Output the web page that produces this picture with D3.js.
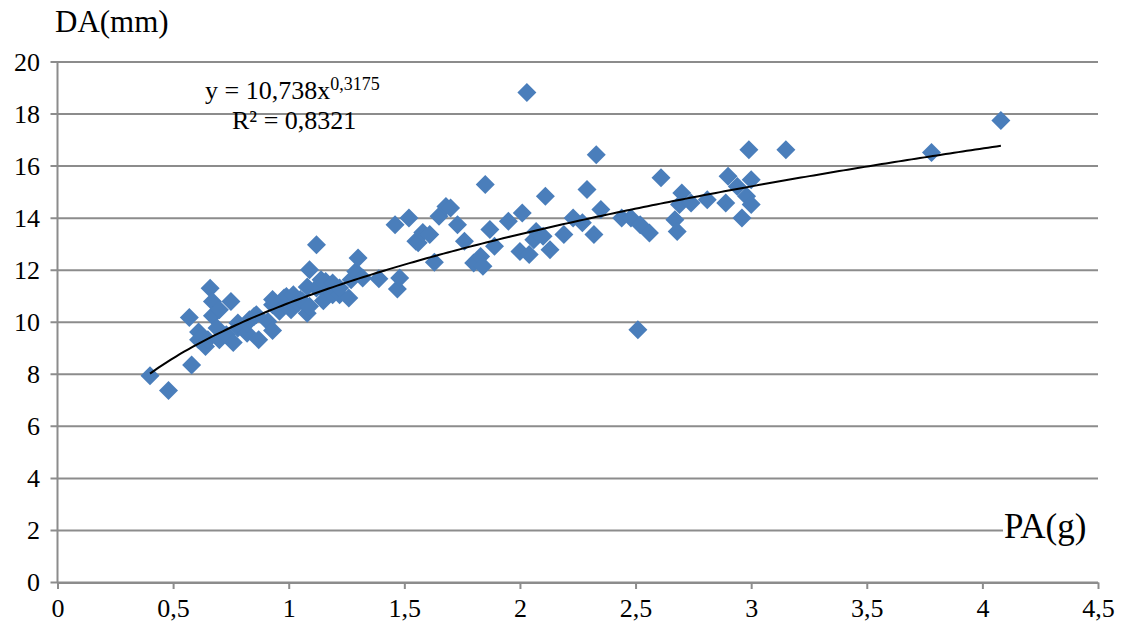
<!DOCTYPE html>
<html>
<head>
<meta charset="utf-8">
<script src="https://cdn.jsdelivr.net/npm/d3@7"></script>
<style>
  html, body { margin: 0; padding: 0; background: #fff; }
  svg { display: block; font-family: "Liberation Serif", "Times New Roman", serif; }
</style>
</head>
<body>
<svg id="chart" width="1123" height="630"></svg>
<script>
// PA (g) – fruit weight
const pa = [
  0.40, 0.48, 0.58, 0.57, 0.66, 0.61, 0.64, 0.61, 0.65, 0.67,
  0.67, 0.69, 0.70, 0.70, 0.73, 0.75, 0.76, 0.78, 0.78, 0.82,
  0.82, 0.83, 0.85, 0.86, 0.87, 0.91, 0.93, 0.93, 0.93, 0.96,
  0.98, 0.99, 1.01, 1.02, 1.04, 1.05, 1.06, 1.08, 1.08, 1.09,
  1.09, 1.12, 1.12, 1.14, 1.15, 1.16, 1.16, 1.19, 1.19, 1.22,
  1.22, 1.26, 1.27, 1.29, 1.30, 1.32, 1.39, 1.46, 1.47, 1.48,
  1.52, 1.55, 1.56, 1.58, 1.61, 1.63, 1.65, 1.68, 1.70, 1.73,
  1.76, 1.80, 1.83, 1.84, 1.85, 1.87, 1.89, 1.95, 2.00, 2.01,
  2.03, 2.04, 2.06, 2.07, 2.10, 2.11, 2.13, 2.19, 2.23, 2.27,
  2.29, 2.32, 2.33, 2.35, 2.44, 2.48, 2.51, 2.52, 2.56, 2.61,
  2.67, 2.68, 2.69, 2.70, 2.74, 2.81, 2.89, 2.90, 2.94, 2.96,
  2.98, 2.99, 3.00, 3.00, 3.15, 3.78, 4.08
];
// DA (mm) – fruit diameter
const da = [
  7.94, 7.38, 8.36, 10.18, 11.31, 9.63, 9.07, 9.33, 9.33, 10.80,
  10.25, 9.78, 10.48, 9.33, 9.52, 10.80, 9.22, 9.78, 9.97, 9.58,
  9.97, 10.10, 10.22, 10.29, 9.33, 10.03, 9.68, 10.67, 10.87, 10.42,
  10.93, 10.99, 10.48, 11.06, 10.74, 10.87, 10.80, 11.35, 10.35, 10.61,
  12.02, 12.98, 11.32, 11.63, 10.83, 11.18, 11.57, 11.51, 11.06, 11.06,
  11.32, 10.93, 11.63, 11.95, 12.47, 11.70, 11.67, 13.75, 11.28, 11.70,
  14.01, 13.11, 13.05, 13.45, 13.37, 12.31, 14.07, 14.45, 14.39, 13.75,
  13.11, 12.28, 12.53, 12.15, 15.29, 13.56, 12.92, 13.88, 12.72, 14.20,
  18.83, 12.60, 13.17, 13.49, 13.30, 14.84, 12.79, 13.37, 14.01, 13.82,
  15.10, 13.37, 16.44, 14.33, 14.01, 14.01, 9.71, 13.75, 13.43, 15.55,
  13.94, 13.49, 14.52, 14.97, 14.58, 14.71, 14.58, 15.61, 15.22, 14.01,
  14.84, 16.63, 15.48, 14.52, 16.63, 16.52, 17.75
];

const xTicks = [0, 0.5, 1, 1.5, 2, 2.5, 3, 3.5, 4, 4.5];
const yTicks = [0, 2, 4, 6, 8, 10, 12, 14, 16, 18, 20];

// Power trend line: y = a * x^b
const fitA = 10.738;
const fitB = 0.3175;
const fitR2 = "0,8321";

const fmt = v => String(v).replace(".", ",");

const svg = d3.select("#chart");
const x = d3.scaleLinear().domain([0, 4.5]).range([57.5, 1098]);
const y = d3.scaleLinear().domain([0, 20]).range([582.5, 62]);

const gridColor = "#8c8c8c";

// horizontal gridlines (they also act as the y tick marks on the left)
svg.append("g")
  .selectAll("line")
  .data(yTicks)
  .join("line")
  .attr("x1", 50.5)
  .attr("x2", x(4.5))
  .attr("y1", d => y(d))
  .attr("y2", d => y(d))
  .attr("stroke", gridColor)
  .attr("stroke-width", 2);

// y axis line
svg.append("line")
  .attr("x1", x(0)).attr("x2", x(0))
  .attr("y1", y(20)).attr("y2", y(0))
  .attr("stroke", gridColor).attr("stroke-width", 2);

// x axis with downward ticks
const xAxis = d3.axisBottom(x)
  .tickValues(xTicks)
  .tickSize(6.5)
  .tickSizeOuter(0)
  .tickPadding(10)
  .tickFormat(fmt);
const gx = svg.append("g")
  .attr("transform", `translate(0,${y(0)})`)
  .call(xAxis);
gx.select(".domain").attr("stroke", gridColor).attr("stroke-width", 2);
gx.selectAll(".tick line").attr("stroke", gridColor).attr("stroke-width", 2);
gx.selectAll(".tick text")
  .attr("fill", "#000")
  .attr("font-size", 26)
  .attr("font-family", "Liberation Serif, Times New Roman, serif");

// y tick labels
svg.append("g")
  .selectAll("text")
  .data(yTicks)
  .join("text")
  .attr("x", 40)
  .attr("y", d => y(d))
  .attr("dy", "0.34em")
  .attr("text-anchor", "end")
  .attr("font-size", 26)
  .attr("fill", "#000")
  .text(d => fmt(d));

// axis titles
svg.append("text")
  .attr("x", 55).attr("y", 32)
  .attr("font-size", 31)
  .attr("fill", "#000")
  .text("DA(mm)");

const paLabel = svg.append("g");
paLabel.append("rect")
  .attr("x", 1003).attr("y", y(2) - 6)
  .attr("width", 100).attr("height", 12)
  .attr("fill", "#fff");
paLabel.append("text")
  .attr("x", 1004).attr("y", 538)
  .attr("font-size", 35)
  .attr("fill", "#000")
  .text("PA(g)");

// data points as diamonds
const half = 9.5;
const diamond = `M0,${-half}L${half},0L0,${half}L${-half},0Z`;
svg.append("g")
  .selectAll("path")
  .data(d3.range(pa.length))
  .join("path")
  .attr("d", diamond)
  .attr("transform", i => `translate(${x(pa[i])},${y(da[i])})`)
  .attr("fill", "#4a7ebb");

// trend line over the data range
const xMin = d3.min(pa), xMax = d3.max(pa);
const fitPts = d3.range(0, 201).map(k => {
  const xv = xMin + (xMax - xMin) * k / 200;
  return [xv, fitA * Math.pow(xv, fitB)];
});
svg.append("path")
  .datum(fitPts)
  .attr("d", d3.line().x(d => x(d[0])).y(d => y(d[1])))
  .attr("fill", "none")
  .attr("stroke", "#000")
  .attr("stroke-width", 2);

// equation and R²
const eq = svg.append("text")
  .attr("x", 205).attr("y", 99)
  .attr("font-size", 26)
  .attr("fill", "#000");
eq.append("tspan").text(`y = ${fmt(fitA)}x`);
eq.append("tspan")
  .attr("font-size", 18)
  .attr("dy", -9)
  .text(fmt(fitB));

svg.append("text")
  .attr("x", 232).attr("y", 129)
  .attr("font-size", 26)
  .attr("fill", "#000")
  .text(`R² = ${fitR2}`);
</script>
</body>
</html>
